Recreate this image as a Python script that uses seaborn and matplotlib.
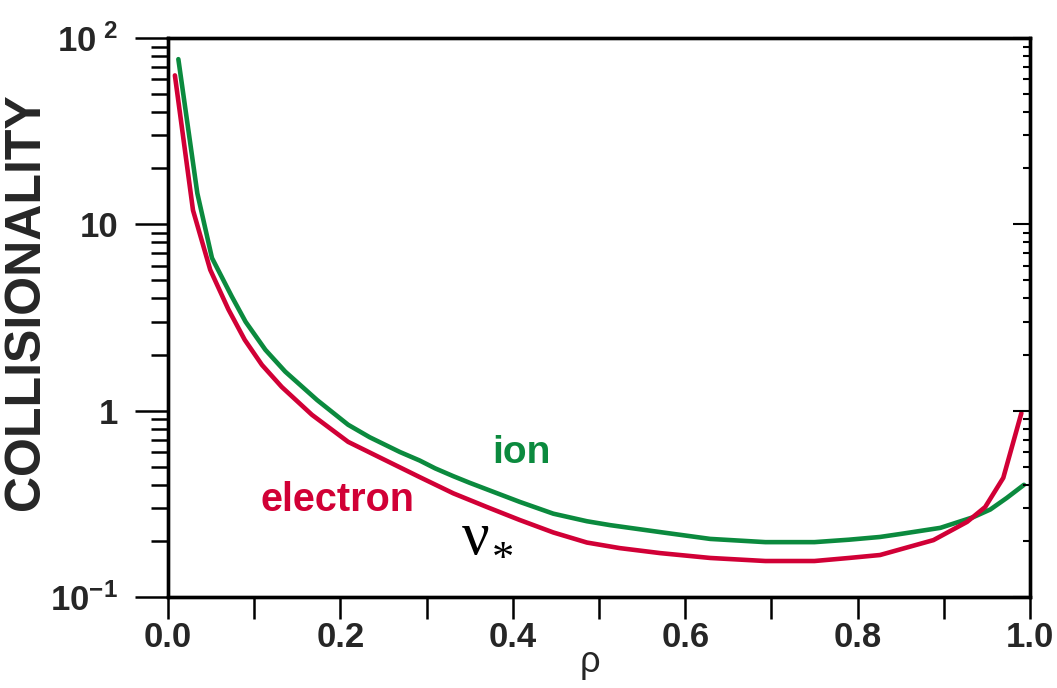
import numpy as np
import pandas as pd
import matplotlib
matplotlib.use("Agg")
import matplotlib.pyplot as plt
import matplotlib.ticker as mticker
import seaborn as sns

# values
rho_ion = [0.012, 0.034, 0.051, 0.074, 0.09, 0.113, 0.136, 0.173, 0.209, 0.234,
           0.269, 0.292, 0.31, 0.331, 0.35, 0.37, 0.408, 0.447, 0.486, 0.513,
           0.571, 0.629, 0.693, 0.75, 0.79, 0.826, 0.85, 0.896, 0.934, 0.954,
           0.973, 0.993]
nu_ion = [77, 14.7, 6.6, 4.1, 3.0, 2.12, 1.62, 1.14, 0.84, 0.72,
          0.6, 0.54, 0.49, 0.445, 0.41, 0.378, 0.324, 0.28, 0.255, 0.243,
          0.223, 0.205, 0.197, 0.197, 0.203, 0.21, 0.218, 0.235, 0.268, 0.295,
          0.34, 0.40]
rho_el = [0.008, 0.029, 0.049, 0.07, 0.089, 0.109, 0.132, 0.167, 0.209, 0.246,
          0.292, 0.331, 0.37, 0.408, 0.447, 0.486, 0.524, 0.571, 0.629, 0.693,
          0.75, 0.79, 0.826, 0.888, 0.927, 0.948, 0.969, 0.99]
nu_el = [63, 11.9, 5.7, 3.5, 2.4, 1.76, 1.34, 0.95, 0.68, 0.56,
         0.44, 0.36, 0.304, 0.259, 0.222, 0.196, 0.183, 0.172, 0.162, 0.156,
         0.156, 0.162, 0.168, 0.202, 0.253, 0.304, 0.436, 0.97]
species = ["ion", "electron"]
colors = ["#0b8a3e", "#d10036"]
x_ticks = [0.0, 0.2, 0.4, 0.6, 0.8, 1.0]
y_ticks = [0.1, 1, 10, 100]
y_tick_labels = [r"$\mathrm{10^{-1}}$", "1", "10", r"$\mathrm{10^{\ 2}}$"]

df = pd.concat([
    pd.DataFrame({"rho": rho_ion, "nu": nu_ion, "species": "ion"}),
    pd.DataFrame({"rho": rho_el, "nu": nu_el, "species": "electron"}),
])

sns.set_style("white")
plt.rcParams["font.family"] = ["Liberation Sans", "DejaVu Sans"]
plt.rcParams["mathtext.fontset"] = "custom"
plt.rcParams["mathtext.rm"] = "Liberation Sans:bold"

fig, ax = plt.subplots(figsize=(10.57, 6.88), dpi=100)
fig.subplots_adjust(left=168/1057, right=1030/1057, top=1-38/688, bottom=1-597/688)

sns.lineplot(data=df, x="rho", y="nu", hue="species", hue_order=species,
             palette=colors, sort=False, linewidth=3.3, legend=False, ax=ax)

ax.set_yscale("log")
ax.set_xlim(0, 1)
ax.set_ylim(0.1, 100)
ax.set_xticks(x_ticks)
ax.set_xticklabels(["%.1f" % v for v in x_ticks], fontsize=25, fontweight="bold")
ax.xaxis.set_minor_locator(mticker.MultipleLocator(0.1))
ax.set_yticks(y_ticks)
ax.set_yticklabels(y_tick_labels, fontsize=25, fontweight="bold")
ax.yaxis.set_minor_locator(mticker.LogLocator(base=10, subs=np.arange(2, 10)))
ax.yaxis.set_minor_formatter(mticker.NullFormatter())
ax.tick_params(axis="x", which="both", direction="out", length=16, width=1.8,
               pad=1, bottom=True, top=False, color="black")
ax.tick_params(axis="y", which="major", direction="out", length=24, width=1.8,
               pad=12, left=True, right=False, color="black")
ax.tick_params(axis="y", which="minor", direction="out", length=12, width=1.8,
               left=True, right=False, color="black")

# inward ticks on the right side
ax2 = ax.twinx()
ax2.set_yscale("log")
ax2.set_ylim(0.1, 100)
ax2.set_yticks(y_ticks)
ax2.yaxis.set_minor_locator(mticker.LogLocator(base=10, subs=np.arange(2, 10)))
ax2.yaxis.set_major_formatter(mticker.NullFormatter())
ax2.yaxis.set_minor_formatter(mticker.NullFormatter())
ax2.tick_params(axis="y", which="major", direction="in", length=12, width=1.5, color="black")
ax2.tick_params(axis="y", which="minor", direction="in", length=5, width=1.5, color="black")

for a in (ax, ax2):
    for s in a.spines.values():
        s.set_color("black")
        s.set_linewidth(2.4)

ax.set_ylabel("COLLISIONALITY", fontsize=36, fontweight="bold")
ax.yaxis.set_label_coords(-0.138, 0.528)
ax.set_xlabel("ρ", fontsize=26)
ax.xaxis.set_label_coords(0.49, -0.085)

ax.text(0.41, 0.59, "ion", color=colors[0], fontsize=28, fontweight="bold",
        ha="center", va="center")
ax.text(0.197, 0.33, "electron", color=colors[1], fontsize=28.5, fontweight="bold",
        ha="center", va="center")
# nu-star label
ax.text(0.357, 0.205, "ν", color="black", fontsize=44, family="Liberation Serif",
        ha="center", va="center")
ax.text(0.389, 0.158, "*", color="black", fontsize=32, family="Liberation Serif",
        ha="center", va="center")

fig.savefig("out.png", dpi=100)
